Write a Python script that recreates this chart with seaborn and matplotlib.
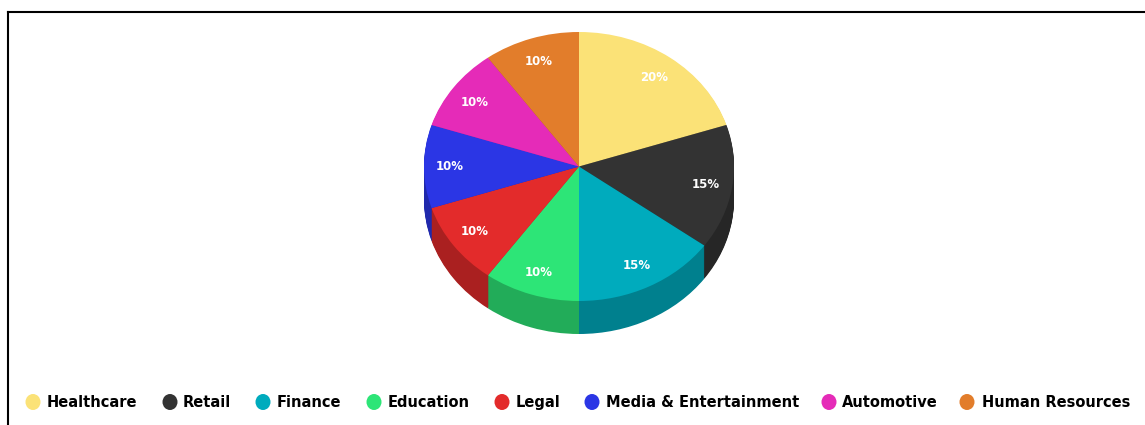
import numpy as np
import matplotlib
matplotlib.use("Agg")
import matplotlib.pyplot as plt
from matplotlib.patches import Ellipse
import seaborn as sns

# Share of each sector, in percent
sectors = ["Healthcare", "Retail", "Finance", "Education", "Legal",
           "Media & Entertainment", "Automotive", "Human Resources"]
shares = [20, 15, 15, 10, 10, 10, 10, 10]
hex_colors = ["#FBE277", "#333333", "#00ABBD", "#2DE577",
              "#E32B2B", "#2B36E5", "#E52BB8", "#E27D2B"]

WIDTH, HEIGHT, DPI = 1145, 425, 100
LEFT_EDGE, TOP_EDGE = 8, 12
CX, CY = 579, 166.5        # centre of the top face, in pixels
RX, RY = 155, 134.5        # radii of the top face, in pixels
DEPTH = 33                 # thickness of the disc, in pixels

# Legend row layout, in pixels
key_x = [33, 170, 263, 374, 502, 592, 829, 967]
label_x = [47, 183, 277, 388, 516, 606, 842, 982]
legend_y = 402

sns.set_theme(style="white")
plt.rcParams["font.family"] = ["DejaVu Sans"]

palette = sns.color_palette(hex_colors)
side_palette = [tuple(c * 0.75 for c in color) for color in palette]

fig = plt.figure(figsize=(WIDTH / DPI, HEIGHT / DPI), dpi=DPI, facecolor="white")
ax = fig.add_axes([LEFT_EDGE / WIDTH, 0, 1 - LEFT_EDGE / WIDTH, 1 - TOP_EDGE / HEIGHT])

# Side wall of the disc: stacked darker pies, lowest first
for px in range(DEPTH, 0, -1):
    ax.pie(shares, colors=side_palette, startangle=90, counterclock=False,
           center=(0, -px / RY), radius=1, wedgeprops={"linewidth": 0})

# Top face with its percentage labels
_, _, autotexts = ax.pie(
    shares, colors=palette, startangle=90, counterclock=False,
    center=(0, 0), radius=1, wedgeprops={"linewidth": 0},
    autopct="%d%%", pctdistance=0.83,
    textprops={"color": "white", "fontweight": "bold", "fontsize": 8.5},
)
for label in autotexts:
    x, y = label.get_position()
    label.set_position((x - 0.5 / RX, y * 0.99 - 0.5 / RY))

# Unequal data scales turn the circle into the tilted ellipse
ax.set_aspect("auto")
ax.set_xlim((LEFT_EDGE - CX) / RX, (WIDTH - CX) / RX)
ax.set_ylim((CY - HEIGHT) / RY, (CY - TOP_EDGE) / RY)
ax.set_frame_on(True)
ax.set_xticks([])
ax.set_yticks([])
for side, spine in ax.spines.items():
    spine.set_visible(side in ("left", "top"))
    spine.set_color("black")
    spine.set_linewidth(1.5)


def to_data(x_px, y_px):
    return (x_px - CX) / RX, (CY - y_px) / RY


# Legend row: oval key and bold label for every sector
for name, color, kx, lx in zip(sectors, palette, key_x, label_x):
    ax.add_patch(Ellipse(to_data(kx, legend_y), 15 / RX, 16 / RY, facecolor=color, linewidth=0))
    ax.text(*to_data(lx, legend_y - 1), name, ha="left", va="center_baseline",
            color="black", fontweight="bold", fontsize=10.5)

fig.savefig("out.png", dpi=DPI, facecolor="white")
